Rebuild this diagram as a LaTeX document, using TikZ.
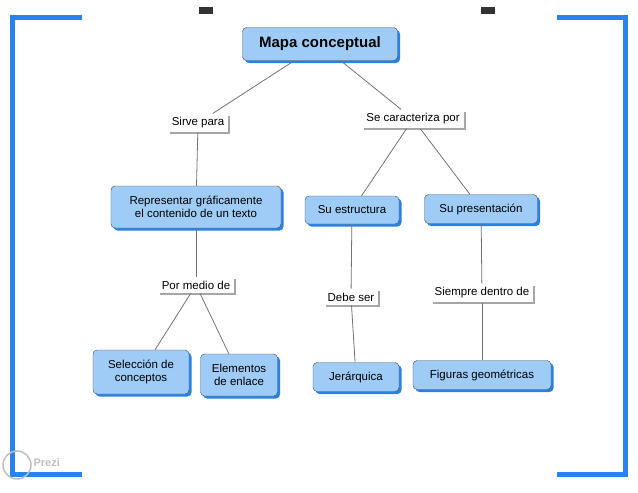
\documentclass[tikz,border=0pt]{standalone}
\usepackage{fontspec}
\setmainfont{Liberation Sans}
\usetikzlibrary{shadows}
\begin{document}
\begin{tikzpicture}[x=1pt,y=-1pt,
  concept/.style={draw=black!70,fill={rgb,255:red,158;green,204;blue,246},rounded corners=4pt,align=center,font=\fontsize{11.5}{13.5}\selectfont,inner sep=3pt,
    drop shadow={fill={rgb,255:red,40;green,130;blue,230},opacity=1,shadow xshift=2.5pt,shadow yshift=-2.5pt}},
  link/.style={fill=white,font=\fontsize{11.5}{13.5}\selectfont,inner sep=4pt,
    drop shadow={fill=black!35,opacity=1,shadow xshift=2pt,shadow yshift=-2pt}},
  conn/.style={draw=black!55,line width=0.8pt},
  bracket/.style={draw={rgb,255:red,40;green,130;blue,240},line width=5pt}]
\useasboundingbox (0,0) rectangle (638,493);
\fill[white] (0,0) rectangle (638,493);
\draw[bracket] (82,17) -- (12,17) -- (12,474) -- (82,474);
\draw[bracket] (557,17) -- (625,17) -- (625,474) -- (557,474);
\fill[black!80] (199,7) rectangle (213,14);
\fill[black!80] (481,7) rectangle (495,14);
\node[concept,font=\bfseries\fontsize{15}{17}\selectfont,minimum width=155pt,minimum height=33pt] (mc) at (320,44) {Mapa conceptual};
\node[link] (sp) at (198,123) {Sirve para};
\node[link] (sc) at (413,119) {Se caracteriza por};
\node[concept,minimum width=170pt,minimum height=42pt] (rg) at (196,207) {Representar gráficamente\\el contenido de un texto};
\node[concept,minimum width=94pt,minimum height=28pt] (se) at (352,210) {Su estructura};
\node[concept,minimum width=113pt,minimum height=29pt] (spr) at (481,209) {Su presentación};
\node[link] (pm) at (196,285) {Por medio de};
\node[link] (ds) at (351,297) {Debe ser};
\node[link] (sd) at (482,293) {Siempre dentro de};
\node[concept,minimum width=96pt,minimum height=44pt] (sel) at (141,372) {Selección de\\conceptos};
\node[concept,minimum width=77pt,minimum height=42pt] (el) at (239,375) {Elementos\\de enlace};
\node[concept,minimum width=86pt,minimum height=29pt] (je) at (356,377) {Jerárquica};
\node[concept,minimum width=138pt,minimum height=29pt] (fg) at (482,375) {Figuras geométricas};
\draw[conn] (mc) -- (sp);
\draw[conn] (mc) -- (sc);
\draw[conn] (sp) -- (rg);
\draw[conn] (sc) -- (se);
\draw[conn] (sc) -- (spr);
\draw[conn] (rg) -- (pm);
\draw[conn] (pm) -- (sel);
\draw[conn] (pm) -- (el);
\draw[conn] (se) -- (ds);
\draw[conn] (ds) -- (je);
\draw[conn] (spr) -- (sd);
\draw[conn] (sd) -- (fg);
\node[draw=black!25,circle,minimum size=28pt,line width=1.5pt] (logo) at (17,465) {};
\node[font=\bfseries\fontsize{11}{12}\selectfont,text=black!25,anchor=west] (pz) at (30,463) {Prezi};
\end{tikzpicture}
\end{document}
